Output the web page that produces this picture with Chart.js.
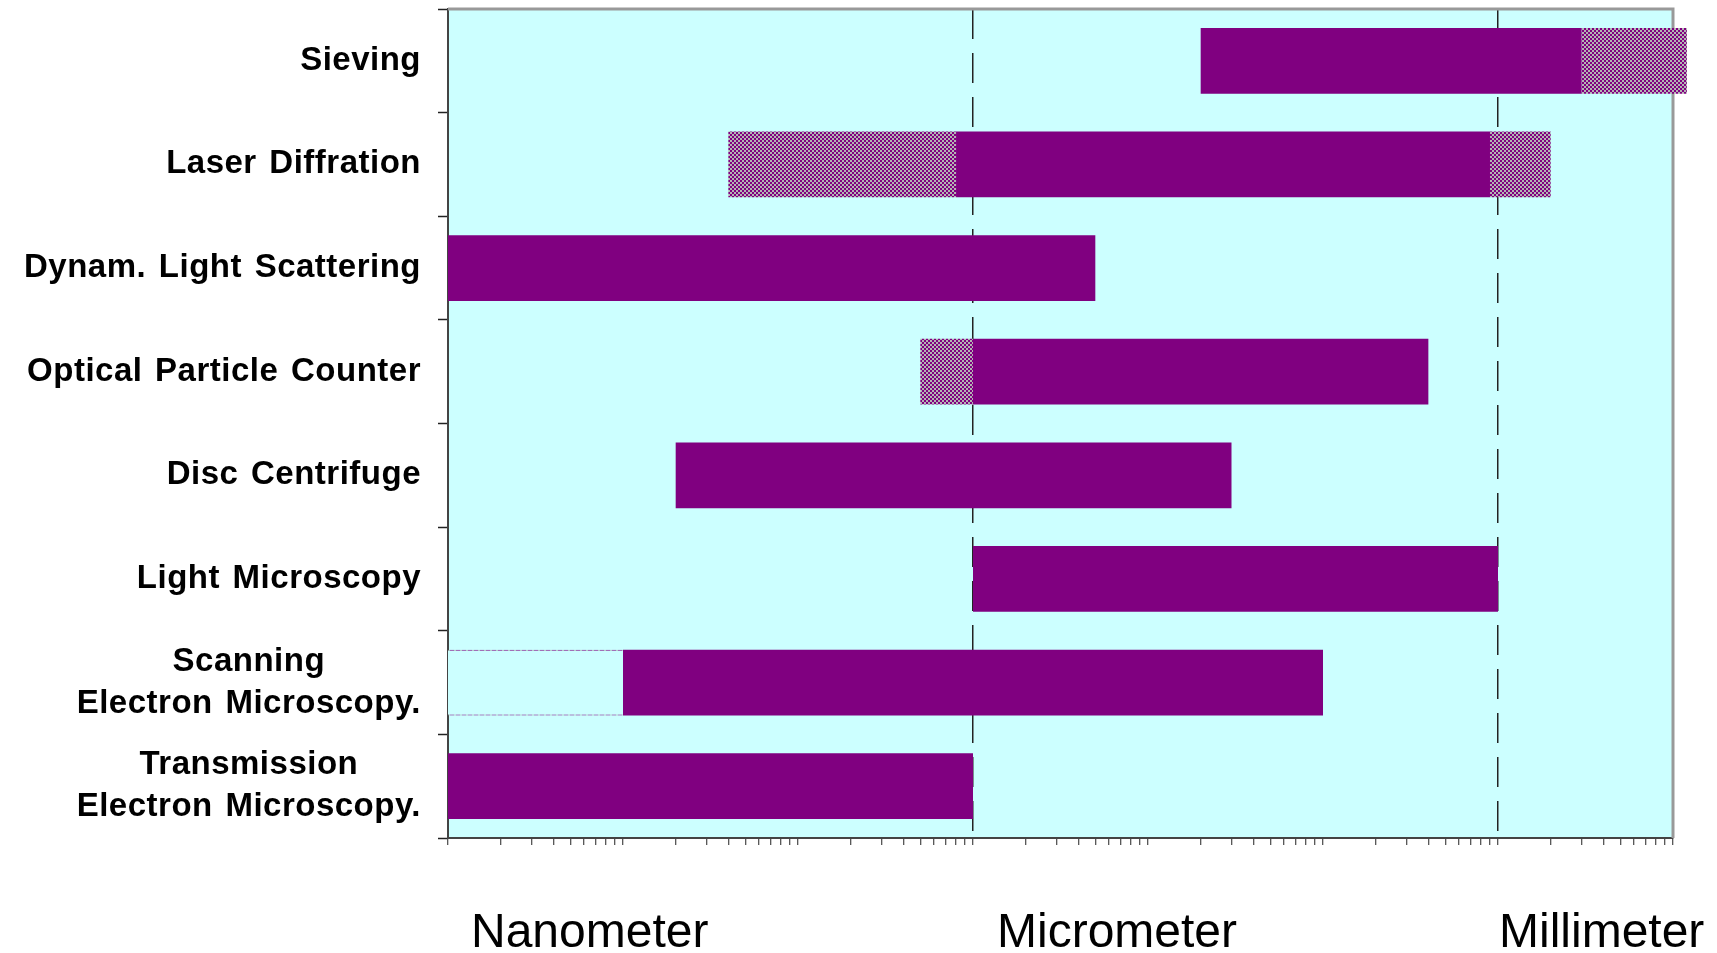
<!DOCTYPE html>
<html>
<head>
<meta charset="utf-8">
<script src="https://cdn.jsdelivr.net/npm/chart.js@4"></script>
<style>
  html, body { margin: 0; padding: 0; background: #fff; }
  #wrap { width: 1717px; height: 953px; position: relative; }
</style>
</head>
<body>
<div id="wrap"><canvas id="myChart"></canvas></div>
<script>
// size ranges in nanometer
const categories = [
    ["Sieving"],
    ["Laser Diffration"],
    ["Dynam. Light Scattering"],
    ["Optical Particle Counter"],
    ["Disc Centrifuge"],
    ["Light Microscopy"],
    ["Scanning", "Electron Microscopy."],
    ["Transmission", "Electron Microscopy."]
];
const mainRange = [[2e4, 3e6], [800, 9e5], [1, 5000], [1000, 4e5], [20, 3e4], [1000, 1e6], [10, 1e5], [1, 1000]];
const lowerExtension = [null, [40, 800], null, [500, 1000], null, null, null, null];
const upperExtension = [[3e6, 1.2e7], [9e5, 2e6], null, null, null, null, null, null];
const dashedRange = [null, null, null, null, null, null, [1, 10], null];
const unitLabels = ["Nanometer", "Micrometer", "Millimeter"];
const unitTicks = [1, 1000, 1e6];

const PURPLE = "#800080";
const CYAN = "#CCFFFF";

const canvas = document.getElementById("myChart");
const ctx = canvas.getContext("2d");

function checkerPattern() {
    const c = document.createElement("canvas");
    c.width = 4;
    c.height = 4;
    const g = c.getContext("2d");
    g.fillStyle = "#B4B4B4";
    g.fillRect(0, 0, 4, 4);
    g.fillStyle = PURPLE;
    g.fillRect(0, 0, 2, 2);
    g.fillRect(2, 2, 2, 2);
    return ctx.createPattern(c, "repeat");
}

function dashPattern() {
    const c = document.createElement("canvas");
    c.width = 6;
    c.height = 1;
    const g = c.getContext("2d");
    g.fillStyle = "#A0A0A0";
    g.fillRect(0, 0, 6, 1);
    g.fillStyle = PURPLE;
    g.fillRect(0, 0, 4, 1);
    return ctx.createPattern(c, "repeat");
}

const hatch = checkerPattern();

// log ticks 1,2,...,9,10,20,... up to 1e7
function logTicks() {
    const ticks = [];
    for (let e = 0; e < 7; e++) {
        for (let m = 1; m < 10; m++) ticks.push({ value: m * Math.pow(10, e) });
    }
    ticks.push({ value: 1e7 });
    return ticks;
}

const plotFrame = {
    id: "plotFrame",
    beforeDraw(chart) {
        const a = chart.chartArea;
        const c = chart.ctx;
        c.save();
        c.fillStyle = CYAN;
        c.fillRect(a.left, a.top, a.right - a.left, a.bottom - a.top);
        c.restore();
    },
    beforeDatasetsDraw(chart) {
        const a = chart.chartArea;
        const c = chart.ctx;
        c.save();
        c.strokeStyle = "#999999";
        c.lineWidth = 3;
        c.beginPath();
        c.moveTo(a.left, a.top);
        c.lineTo(a.right, a.top);
        c.lineTo(a.right, a.bottom);
        c.stroke();
        c.restore();
    },
    afterDraw(chart) {
        const c = chart.ctx;
        const yScale = chart.scales.y;
        const xScale = chart.scales.x;
        c.save();
        c.fillStyle = "#000";
        c.font = "bold 33px 'Liberation Sans', Arial, sans-serif";
        c.letterSpacing = "0.5px";
        c.wordSpacing = "3px";
        c.textBaseline = "alphabetic";
        c.textAlign = "center";
        const rightX = yScale.left - 17;
        const lineH = 42;
        categories.forEach((lines, i) => {
            const yc = yScale.getPixelForTick(i) - 3;
            const widest = Math.max(...lines.map(l => c.measureText(l).width));
            lines.forEach((line, j) => {
                const y = yc + (j - (lines.length - 1) / 2) * lineH + 12;
                c.fillText(line, rightX - widest / 2, y);
            });
        });

        c.font = "48px 'Liberation Sans', Arial, sans-serif";
        c.letterSpacing = "0px";
        c.wordSpacing = "0px";
        c.textAlign = "left";
        const shift = [23, 24, 1];
        unitLabels.forEach((label, i) => {
            c.fillText(label, xScale.getPixelForValue(unitTicks[i]) + shift[i], 947);
        });
        c.restore();
    }
};

new Chart(ctx, {
    type: "bar",
    data: {
        labels: categories,
        datasets: [
            {
                label: "range",
                data: mainRange,
                backgroundColor: PURPLE,
                borderWidth: 0
            },
            {
                label: "lower extension",
                data: lowerExtension,
                backgroundColor: hatch,
                borderWidth: 0
            },
            {
                label: "upper extension",
                data: upperExtension,
                backgroundColor: hatch,
                borderWidth: 0,
                clip: false
            },
            {
                label: "possible",
                data: dashedRange,
                backgroundColor: CYAN,
                borderColor: dashPattern(),
                borderWidth: { top: 1, bottom: 1, left: 0, right: 0 },
                borderSkipped: false
            }
        ]
    },
    options: {
        indexAxis: "y",
        responsive: true,
        maintainAspectRatio: false,
        animation: false,
        grouped: false,
        categoryPercentage: 1,
        barPercentage: 0.635,
        layout: {
            padding: { left: 438, right: 44, top: 9, bottom: 108 }
        },
        plugins: {
            legend: { display: false },
            tooltip: { enabled: false }
        },
        scales: {
            x: {
                type: "logarithmic",
                min: 1,
                max: 1e7,
                afterBuildTicks: (scale) => { scale.ticks = logTicks(); },
                ticks: { display: false },
                grid: {
                    color: (c) => (c.tick && (c.tick.value === 1000 || c.tick.value === 1e6)) ? "#222" : "rgba(0,0,0,0)",
                    lineWidth: 1.5,
                    tickColor: "#222",
                    tickLength: 7,
                    tickWidth: 1
                },
                border: { color: "#444", width: 2, dash: [30, 14] }
            },
            y: {
                type: "category",
                ticks: { display: false },
                grid: {
                    drawOnChartArea: false,
                    tickColor: "#222",
                    tickLength: 10,
                    tickWidth: 1.5
                },
                border: { color: "#444", width: 2 }
            }
        }
    },
    plugins: [plotFrame]
});
</script>
</body>
</html>
